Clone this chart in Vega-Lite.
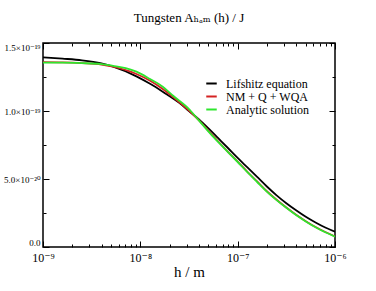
{
  "$schema": "https://vega.github.io/schema/vega-lite/v6.json",
  "autosize": "none",
  "width": 292,
  "height": 204,
  "padding": {"left": 43, "top": 43, "right": 41, "bottom": 44},
  "background": "white",
  "config": {
    "view": {"stroke": "black", "strokeWidth": 1.5},
    "font": "Times New Roman, Liberation Serif, DejaVu Serif, serif",
    "axis": {"grid": false, "domain": false, "tickColor": "black", "labelColor": "black", "titleColor": "black", "labelFont": "Times New Roman, Liberation Serif, DejaVu Serif, serif", "titleFont": "Times New Roman, Liberation Serif, DejaVu Serif, serif"},
    "legend": {"labelFont": "Times New Roman, Liberation Serif, DejaVu Serif, serif"}
  },
  "title": {"text": "Tungsten Aₕₐₘ (h) / J", "font": "Times New Roman, Liberation Serif, DejaVu Serif, serif", "fontSize": 13, "fontWeight": "normal", "anchor": "middle", "offset": 18, "color": "black"},
  "datasets": {
    "curves": [
      {"s": "Lifshitz equation", "h": 1e-9, "A": 1.395e-19},
      {"s": "Lifshitz equation", "h": 1.585e-9, "A": 1.385e-19},
      {"s": "Lifshitz equation", "h": 2.512e-9, "A": 1.373e-19},
      {"s": "Lifshitz equation", "h": 3.981e-9, "A": 1.35e-19},
      {"s": "Lifshitz equation", "h": 5.248e-9, "A": 1.326e-19},
      {"s": "Lifshitz equation", "h": 9.12e-9, "A": 1.255e-19},
      {"s": "Lifshitz equation", "h": 1.259e-8, "A": 1.2e-19},
      {"s": "Lifshitz equation", "h": 1.698e-8, "A": 1.142e-19},
      {"s": "Lifshitz equation", "h": 2.512e-8, "A": 1.06e-19},
      {"s": "Lifshitz equation", "h": 3.162e-8, "A": 1.0e-19},
      {"s": "Lifshitz equation", "h": 3.981e-8, "A": 0.94e-19},
      {"s": "Lifshitz equation", "h": 5.012e-8, "A": 0.872e-19},
      {"s": "Lifshitz equation", "h": 6.31e-8, "A": 0.80e-19},
      {"s": "Lifshitz equation", "h": 7.943e-8, "A": 0.728e-19},
      {"s": "Lifshitz equation", "h": 1e-7, "A": 0.655e-19},
      {"s": "Lifshitz equation", "h": 1.259e-7, "A": 0.585e-19},
      {"s": "Lifshitz equation", "h": 1.585e-7, "A": 0.515e-19},
      {"s": "Lifshitz equation", "h": 1.995e-7, "A": 0.445e-19},
      {"s": "Lifshitz equation", "h": 2.512e-7, "A": 0.38e-19},
      {"s": "Lifshitz equation", "h": 3.162e-7, "A": 0.322e-19},
      {"s": "Lifshitz equation", "h": 3.981e-7, "A": 0.27e-19},
      {"s": "Lifshitz equation", "h": 5.012e-7, "A": 0.222e-19},
      {"s": "Lifshitz equation", "h": 6.31e-7, "A": 0.18e-19},
      {"s": "Lifshitz equation", "h": 7.943e-7, "A": 0.143e-19},
      {"s": "Lifshitz equation", "h": 1e-6, "A": 0.113e-19},
      {"s": "NM + Q + WQA", "h": 1e-9, "A": 1.36e-19},
      {"s": "NM + Q + WQA", "h": 1.585e-9, "A": 1.358e-19},
      {"s": "NM + Q + WQA", "h": 2.512e-9, "A": 1.352e-19},
      {"s": "NM + Q + WQA", "h": 3.981e-9, "A": 1.342e-19},
      {"s": "NM + Q + WQA", "h": 5.248e-9, "A": 1.326e-19},
      {"s": "NM + Q + WQA", "h": 9.12e-9, "A": 1.272e-19},
      {"s": "NM + Q + WQA", "h": 1.259e-8, "A": 1.222e-19},
      {"s": "NM + Q + WQA", "h": 1.698e-8, "A": 1.162e-19},
      {"s": "NM + Q + WQA", "h": 2.188e-8, "A": 1.1e-19},
      {"s": "NM + Q + WQA", "h": 3.162e-8, "A": 1.003e-19},
      {"s": "NM + Q + WQA", "h": 3.981e-8, "A": 0.932e-19},
      {"s": "NM + Q + WQA", "h": 5.623e-8, "A": 0.815e-19},
      {"s": "NM + Q + WQA", "h": 7.943e-8, "A": 0.70e-19},
      {"s": "NM + Q + WQA", "h": 1e-7, "A": 0.628e-19},
      {"s": "NM + Q + WQA", "h": 1.259e-7, "A": 0.553e-19},
      {"s": "NM + Q + WQA", "h": 1.585e-7, "A": 0.482e-19},
      {"s": "NM + Q + WQA", "h": 1.995e-7, "A": 0.41e-19},
      {"s": "NM + Q + WQA", "h": 2.512e-7, "A": 0.347e-19},
      {"s": "NM + Q + WQA", "h": 3.162e-7, "A": 0.29e-19},
      {"s": "NM + Q + WQA", "h": 3.981e-7, "A": 0.237e-19},
      {"s": "NM + Q + WQA", "h": 5.012e-7, "A": 0.19e-19},
      {"s": "NM + Q + WQA", "h": 6.31e-7, "A": 0.147e-19},
      {"s": "NM + Q + WQA", "h": 7.943e-7, "A": 0.11e-19},
      {"s": "NM + Q + WQA", "h": 1e-6, "A": 0.078e-19},
      {"s": "Analytic solution", "h": 1e-9, "A": 1.355e-19},
      {"s": "Analytic solution", "h": 1.585e-9, "A": 1.355e-19},
      {"s": "Analytic solution", "h": 2.512e-9, "A": 1.352e-19},
      {"s": "Analytic solution", "h": 3.981e-9, "A": 1.345e-19},
      {"s": "Analytic solution", "h": 5.248e-9, "A": 1.332e-19},
      {"s": "Analytic solution", "h": 7.079e-9, "A": 1.315e-19},
      {"s": "Analytic solution", "h": 9.12e-9, "A": 1.289e-19},
      {"s": "Analytic solution", "h": 1.259e-8, "A": 1.235e-19},
      {"s": "Analytic solution", "h": 1.698e-8, "A": 1.179e-19},
      {"s": "Analytic solution", "h": 2.188e-8, "A": 1.11e-19},
      {"s": "Analytic solution", "h": 3.236e-8, "A": 1.007e-19},
      {"s": "Analytic solution", "h": 3.508e-8, "A": 0.978e-19},
      {"s": "Analytic solution", "h": 4.467e-8, "A": 0.89e-19},
      {"s": "Analytic solution", "h": 5.623e-8, "A": 0.809e-19},
      {"s": "Analytic solution", "h": 7.943e-8, "A": 0.698e-19},
      {"s": "Analytic solution", "h": 1e-7, "A": 0.625e-19},
      {"s": "Analytic solution", "h": 1.259e-7, "A": 0.55e-19},
      {"s": "Analytic solution", "h": 1.585e-7, "A": 0.478e-19},
      {"s": "Analytic solution", "h": 1.995e-7, "A": 0.407e-19},
      {"s": "Analytic solution", "h": 2.512e-7, "A": 0.345e-19},
      {"s": "Analytic solution", "h": 3.162e-7, "A": 0.288e-19},
      {"s": "Analytic solution", "h": 3.981e-7, "A": 0.235e-19},
      {"s": "Analytic solution", "h": 5.012e-7, "A": 0.188e-19},
      {"s": "Analytic solution", "h": 6.31e-7, "A": 0.145e-19},
      {"s": "Analytic solution", "h": 7.943e-7, "A": 0.108e-19},
      {"s": "Analytic solution", "h": 1e-6, "A": 0.076e-19}
    ]
  },
  "data": {"name": "curves"},
  "resolve": {"scale": {"x": "independent", "y": "independent", "color": "independent"}},
  "layer": [
    {
      "mark": {"type": "line", "interpolate": "monotone", "strokeWidth": 1.8, "clip": true},
      "encoding": {
        "x": {"field": "h", "type": "quantitative", "scale": {"type": "log", "domain": [1e-9, 1e-6], "nice": false},
          "axis": {"orient": "bottom", "values": [1e-9, 1e-8, 1e-7, 1e-6], "tickSize": -6, "tickWidth": 1, "labelFontSize": 12, "labelPadding": 11, "labelFlush": false,
            "labelExpr": "datum.value < 5e-9 ? '10⁻⁹' : datum.value < 5e-8 ? '10⁻⁸' : datum.value < 5e-7 ? '10⁻⁷' : '10⁻⁶'",
            "title": "h / m", "titleFontSize": 15, "titleFontWeight": "normal", "titlePadding": 1}},
        "y": {"field": "A", "type": "quantitative", "scale": {"domain": [0, 1.5e-19], "nice": false, "zero": true},
          "axis": {"orient": "left", "values": [0, 5e-20, 1e-19, 1.5e-19], "tickSize": -6, "tickWidth": 1, "labelFontSize": 9, "labelPadding": 9, "labelFlush": true,
            "labelExpr": "datum.value == 0 ? '0.0' : datum.value < 7e-20 ? '5.0×10⁻²⁰' : datum.value < 1.2e-19 ? '1.0×10⁻¹⁹' : '1.5×10⁻¹⁹'",
            "title": null}},
        "color": {"field": "s", "type": "nominal",
          "scale": {"domain": ["Lifshitz equation", "NM + Q + WQA", "Analytic solution"], "range": ["#000000", "#d42222", "#2ee62e"]},
          "legend": {"title": null, "orient": "none", "legendX": 162, "legendY": 34, "symbolType": "stroke", "symbolSize": 110, "symbolStrokeWidth": 2, "labelFont": "Times New Roman, Liberation Serif, DejaVu Serif, serif", "labelFontSize": 12, "labelColor": "black", "rowPadding": -2.5, "padding": 0, "labelOffset": 8}},
        "order": {"field": "h", "type": "quantitative"}
      }
    },
    {
      "mark": {"type": "point", "opacity": 0},
      "encoding": {
        "x": {"field": "h", "type": "quantitative", "scale": {"type": "log", "domain": [1e-9, 1e-6], "nice": false},
          "axis": {"orient": "bottom", "values": [2e-9,3e-9,4e-9,5e-9,6e-9,7e-9,8e-9,9e-9,2e-8,3e-8,4e-8,5e-8,6e-8,7e-8,8e-8,9e-8,2e-7,3e-7,4e-7,5e-7,6e-7,7e-7,8e-7,9e-7], "tickSize": -3, "labels": false, "title": null}},
        "y": {"field": "A", "type": "quantitative", "scale": {"domain": [0, 1.5e-19], "nice": false},
          "axis": {"orient": "left", "values": [2.5e-20, 7.5e-20, 1.25e-19], "tickSize": -3, "labels": false, "title": null}}
      }
    },
    {
      "mark": {"type": "point", "opacity": 0},
      "encoding": {
        "x": {"field": "h", "type": "quantitative", "scale": {"type": "log", "domain": [1e-9, 1e-6], "nice": false},
          "axis": {"orient": "top", "values": [1e-9, 1e-8, 1e-7, 1e-6], "tickSize": -6, "labels": false, "title": null}},
        "y": {"field": "A", "type": "quantitative", "scale": {"domain": [0, 1.5e-19], "nice": false},
          "axis": {"orient": "right", "values": [0, 5e-20, 1e-19, 1.5e-19], "tickSize": -6, "labels": false, "title": null}}
      }
    },
    {
      "mark": {"type": "point", "opacity": 0},
      "encoding": {
        "x": {"field": "h", "type": "quantitative", "scale": {"type": "log", "domain": [1e-9, 1e-6], "nice": false},
          "axis": {"orient": "top", "values": [2e-9,3e-9,4e-9,5e-9,6e-9,7e-9,8e-9,9e-9,2e-8,3e-8,4e-8,5e-8,6e-8,7e-8,8e-8,9e-8,2e-7,3e-7,4e-7,5e-7,6e-7,7e-7,8e-7,9e-7], "tickSize": -3, "labels": false, "title": null}},
        "y": {"field": "A", "type": "quantitative", "scale": {"domain": [0, 1.5e-19], "nice": false},
          "axis": {"orient": "right", "values": [2.5e-20, 7.5e-20, 1.25e-19], "tickSize": -3, "labels": false, "title": null}}
      }
    }
  ]
}
